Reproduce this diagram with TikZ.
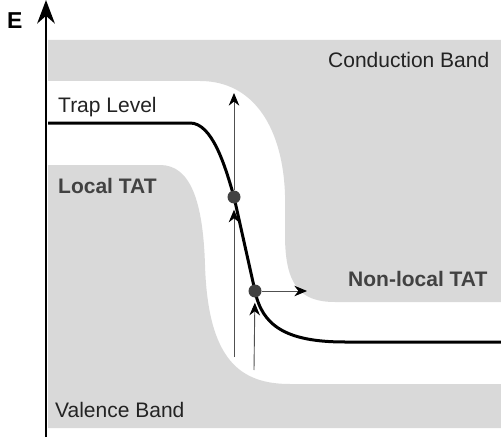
\documentclass[tikz,border=0pt]{standalone}
\usepackage{fontspec}
\setmainfont{Liberation Sans}
\usetikzlibrary{arrows.meta}
\definecolor{bandgray}{RGB}{217,217,217}
\definecolor{darktext}{RGB}{35,35,35}
\definecolor{tatgray}{RGB}{66,66,66}
\definecolor{jumpgray}{RGB}{80,80,80}
\tikzset{
  bandlabel/.style={anchor=base west, inner sep=0pt, text=darktext,
    font=\fontsize{21}{25}\selectfont},
  tatlabel/.style={anchor=base west, inner sep=0pt, text=tatgray,
    font=\fontsize{21}{25}\selectfont\bfseries},
  trapdot/.style={circle, fill=tatgray, minimum size=13pt, inner sep=0pt},
  jump/.style={draw=jumpgray, line width=0.9pt,
    arrows={-Stealth[scale=1.8, scale width=2, black]}},
  axisline/.style={line width=2.6pt, arrows={-Stealth[scale=1.6]}},
  trapline/.style={line width=3pt}
}
\begin{document}
\begin{tikzpicture}[x=1pt, y=-1pt]
\useasboundingbox (0,0) rectangle (501,444);
% conduction and valence bands
\fill[bandgray] (48,40) -- (501,40) -- (501,302) -- (335,302)
  .. controls (300,302) and (285,285) .. (285,235) -- (285,195)
  .. controls (283,130) and (255,81) .. (200,81) -- (48,81) -- cycle;
\fill[bandgray] (48,165) -- (160,165)
  .. controls (190,165) and (203,200) .. (205,265)
  .. controls (208,360) and (240,384) .. (290,384)
  -- (501,384) -- (501,428) -- (48,428) -- cycle;

\coordinate (d1) at (234,197);
\coordinate (d2) at (255,291);
\coordinate (trapstart) at (48,123);
\coordinate (trapend) at (501,342);
\coordinate (jumptop) at (234,93);
\coordinate (jumpbot) at (234,357);
\coordinate (tunnelbot) at (254,370);
\coordinate (tunnelend) at (307,291);
\coordinate (axisbot) at (46,437);
\coordinate (axistop) at (46,0);

% trap level
\draw[trapline] (trapstart) -- (190,123)
  .. controls (212,123) and (225,165) .. (d1) -- (d2)
  .. controls (262,325) and (285,342) .. (345,342) -- (trapend);
\node (dot1) [trapdot] at (d1) {};
\node (dot2) [trapdot] at (d2) {};

% transitions
\draw[jump, shorten >=6pt] (jumpbot) -- (dot1);
\draw[jump] (dot1) -- (jumptop);
\draw[jump, shorten >=5pt] (tunnelbot) -- (dot2);
\draw[jump] (dot2) -- (tunnelend);

% energy axis
\draw[axisline] (axisbot) -- (axistop);
\node (elabel) [anchor=base west, inner sep=0pt,
  font=\fontsize{23}{27}\selectfont\bfseries] at (7,29) {E};

\node (cband) [bandlabel] at (328,68) {Conduction Band};
\node (trap)  [bandlabel] at (58,112) {Trap Level};
\node (local) [tatlabel]  at (58,193) {Local TAT};
\node (nonlocal) [tatlabel] at (348,286) {Non-local TAT};
\node (vband) [bandlabel] at (55,417) {Valence Band};
\end{tikzpicture}
\end{document}
